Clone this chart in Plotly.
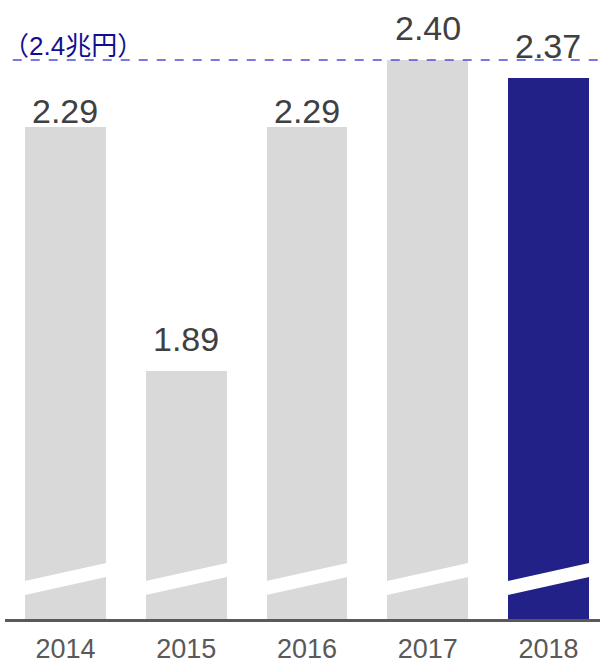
import plotly.graph_objects as go

years = ["2014", "2015", "2016", "2017", "2018"]
values = [2.29, 1.89, 2.29, 2.40, 2.37]
value_labels = ["2.29", "1.89", "2.29", "2.40", "2.37"]
label_lift = [0, 16, 0, 16, 16]
bar_colors = ["#d9d9d9", "#d9d9d9", "#d9d9d9", "#d9d9d9", "#212188"]
ref_value = 2.4
ref_label = "（2.4兆円）"

FONT = "Liberation Sans, Arial, Noto Sans CJK JP, sans-serif"
y_range = [1.482, 2.4985]
bar_width = 0.67

idx = list(range(len(years)))

fig = go.Figure()
fig.add_trace(go.Bar(
    x=idx, y=values, width=bar_width,
    marker=dict(color=bar_colors, line=dict(width=0)),
    hoverinfo="skip",
))

# broken-axis white stripes
shapes = []
half = bar_width / 2 + 0.03
slope = 0.044
y_left_top = 1.5445
thick = 0.023
for i in idx:
    xl, xr = i - half, i + half
    yl = y_left_top - slope * 0.03
    yr = yl + slope * (xr - xl)
    path = (f"M {xl},{yl} L {xr},{yr} L {xr},{yr - thick} L {xl},{yl - thick} Z")
    shapes.append(dict(type="path", path=path, xref="x", yref="y",
                       fillcolor="white", line=dict(width=0), layer="above"))

# reference dashed line
shapes.append(dict(type="line", xref="paper", yref="y", x0=0.013, x1=1,
                   y0=ref_value, y1=ref_value,
                   line=dict(color="#4d4dd6", width=1.5, dash="dash")))

annotations = []
for i, v, t, lift in zip(idx, values, value_labels, label_lift):
    annotations.append(dict(x=i, y=v, xref="x", yref="y", text=t,
                            showarrow=False, yanchor="bottom", yshift=lift - 5,
                            font=dict(family=FONT, size=34, color="#404040")))
annotations.append(dict(x=0, y=ref_value, xref="paper", yref="y", text=ref_label,
                        showarrow=False, xanchor="left", yanchor="bottom",
                        xshift=-4, yshift=-3,
                        font=dict(family=FONT, size=26, color="#10108f")))

fig.update_layout(
    width=600, height=664,
    margin=dict(l=5, r=0, t=0, b=45),
    paper_bgcolor="white", plot_bgcolor="white",
    showlegend=False,
    bargap=0,
    shapes=shapes,
    annotations=annotations,
    xaxis=dict(range=[-0.501, 4.427], tickvals=idx, ticktext=years,
               showline=True, linecolor="#595959", linewidth=2.5,
               showgrid=False, zeroline=False, ticks="",
               ticklabelstandoff=4, automargin=False,
               tickfont=dict(family=FONT, size=27, color="#595959"),
               fixedrange=True),
    yaxis=dict(range=y_range, visible=False, showgrid=False, zeroline=False,
               automargin=False, fixedrange=True),
)

fig.write_html("out.html")
